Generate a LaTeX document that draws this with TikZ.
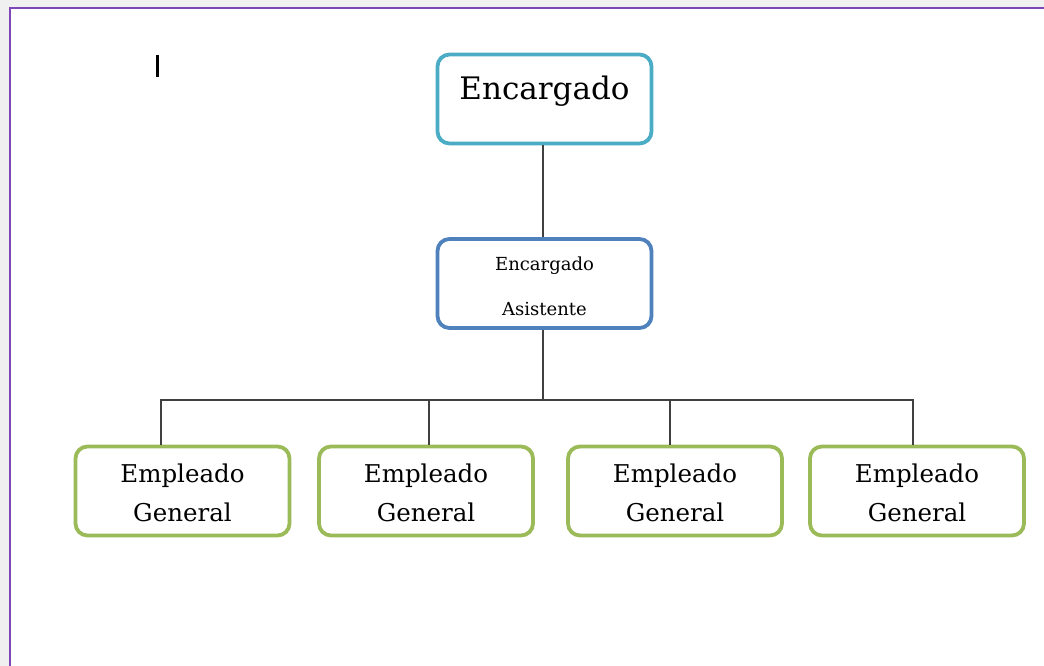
\documentclass[tikz,border=0pt]{standalone}
\usepackage{fontspec}
\setmainfont{DejaVu Serif}
\definecolor{bggray}{HTML}{F0F0F0}
\definecolor{frame}{HTML}{7E46B6}
\definecolor{teal}{HTML}{4BACC6}
\definecolor{blue}{HTML}{4F81BD}
\definecolor{green}{HTML}{9BBB59}
\definecolor{conn}{HTML}{404040}
\tikzset{
  box/.style={draw, fill=white, rounded corners=12pt, line width=3.8pt,
    minimum width=214pt, minimum height=89pt, inner sep=0pt, align=center, text=black},
  emp/.style={box, draw=green, font=\fontsize{24.5}{39}\selectfont},
  link/.style={draw=conn, line width=1.2pt}
}
\begin{document}
\begin{tikzpicture}[x=1pt,y=-1pt]
\useasboundingbox (0,0) rectangle (1044,666);
\fill[bggray] (0,0) rectangle (1044,666);
\fill[white] (10,8) rectangle (1044,666);
\draw[frame, line width=2.8pt] (10,667) -- (10,8) -- (1045,8);
\draw[black, line width=2.5pt] (157.5,55) -- (157.5,77);

\node[box, draw=teal, font=\fontsize{31}{36}\selectfont, text height=24pt, text depth=22pt] (top) at (544.5,99) {Encargado};
\node[box, draw=blue, font=\fontsize{18}{45}\selectfont] (mid) at (544.5,283.5) {\rule{0pt}{20pt}Encargado\\Asistente};
\node[emp] (e1) at (182.5,491) {\rule{0pt}{23pt}Empleado\\General};
\node[emp] (e2) at (426,491) {\rule{0pt}{23pt}Empleado\\General};
\node[emp] (e3) at (675,491) {\rule{0pt}{23pt}Empleado\\General};
\node[emp] (e4) at (917,491) {\rule{0pt}{23pt}Empleado\\General};

\coordinate (bus) at (543,400);
\path[link] ([xshift=-1.5pt]top.south) -- ([xshift=-1.5pt]mid.north);
\path[link] ([xshift=-1.5pt]mid.south) -- (bus);
\path[link] (bus) -| ([xshift=-21.5pt]e1.north);
\path[link] (bus) -| ([xshift=3pt]e2.north);
\path[link] (bus) -| ([xshift=-5pt]e3.north);
\path[link] (bus) -| ([xshift=-4pt]e4.north);
\end{tikzpicture}
\end{document}
